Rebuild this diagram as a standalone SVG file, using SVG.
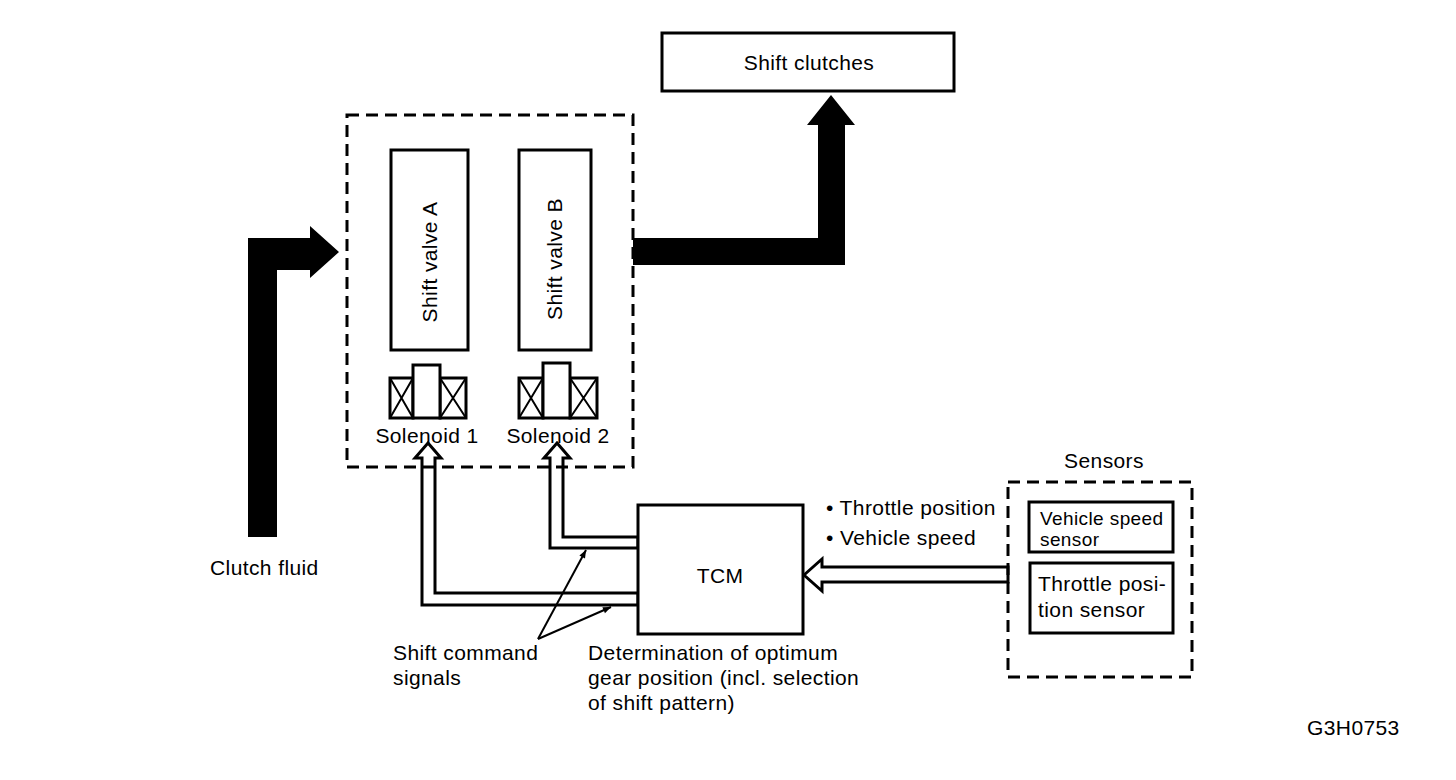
<svg xmlns="http://www.w3.org/2000/svg" width="1456" height="780" viewBox="0 0 1456 780">
<style>
  text { font-family: "Liberation Sans", Arial, sans-serif; fill: #000; letter-spacing: 0.4px; }
  .lbl { font-size: 21px; }
  .sm { font-size: 19px; }
  .box { fill: #fff; stroke: #000; stroke-width: 3; }
  .dash { fill: none; stroke: #000; stroke-width: 3; stroke-dasharray: 12 7; }
  .hollow { fill: #fff; stroke: #000; stroke-width: 3; stroke-linejoin: miter; }
  .solid { fill: #000; stroke: none; }
  .thin { fill: none; stroke: #000; stroke-width: 2; }
</style>
<defs>
  <marker id="ah" viewBox="0 0 10 10" refX="10" refY="5" markerWidth="14" markerHeight="8" markerUnits="userSpaceOnUse" orient="auto">
    <path d="M0,1 L10,5 L0,9 Z" fill="#000"/>
  </marker>
</defs>
<rect width="1456" height="780" fill="#fff"/>

<g id="connectors">
  <!-- clutch fluid thick arrow -->
  <polygon class="solid" points="248,537 277,537 277,270 310,270 310,278 339,252 310,226 310,238 248,238"/>
  <!-- to shift clutches thick arrow -->
  <polygon class="solid" points="633,238 818,238 818,125 807,125 831,95 855,125 845,125 845,265 633,265"/>
  <!-- TCM to solenoid 1 -->
  <polygon class="hollow" points="428,443 441,458 435,458 435,593 638,593 638,605 422,605 422,458 415,458"/>
  <!-- TCM to solenoid 2 -->
  <polygon class="hollow" points="557,443 570,458 563,458 563,537 638,537 638,548 550,548 550,458 544,458"/>
  <!-- sensors to TCM -->
  <polygon class="hollow" points="804,575 822,559 822,567 1008,567 1008,582 822,582 822,591"/>
  <!-- leader lines -->
  <line class="thin" x1="538" y1="639" x2="586" y2="550" marker-end="url(#ah)"/>
  <line class="thin" x1="538" y1="639" x2="611" y2="607" marker-end="url(#ah)"/>
</g>

<g id="shift-clutches">
  <rect class="box" x="662" y="33" width="292" height="58"/>
  <text class="lbl" x="809" y="70" text-anchor="middle">Shift clutches</text>
</g>

<g id="valve-body">
  <rect class="dash" x="347" y="115" width="286" height="352"/>
</g>

<g id="shift-valve-a">
  <rect class="box" x="391" y="150" width="77" height="200"/>
  <text class="lbl" transform="translate(437,262) rotate(-90)" text-anchor="middle">Shift valve A</text>
</g>

<g id="shift-valve-b">
  <rect class="box" x="519" y="150" width="72" height="200"/>
  <text class="lbl" transform="translate(562,259) rotate(-90)" text-anchor="middle">Shift valve B</text>
</g>

<g id="solenoid-1">
  <rect class="box" x="390" y="378" width="23" height="40"/>
  <path class="thin" d="M390,378 L413,418 M413,378 L390,418"/>
  <rect class="box" x="440" y="378" width="26" height="40"/>
  <path class="thin" d="M440,378 L466,418 M466,378 L440,418"/>
  <rect class="box" x="413" y="365" width="27" height="53"/>
  <text class="lbl" x="427" y="443" text-anchor="middle">Solenoid 1</text>
</g>

<g id="solenoid-2">
  <rect class="box" x="519" y="378" width="24" height="40"/>
  <path class="thin" d="M519,378 L543,418 M543,378 L519,418"/>
  <rect class="box" x="570" y="378" width="27" height="40"/>
  <path class="thin" d="M570,378 L597,418 M597,378 L570,418"/>
  <rect class="box" x="543" y="363" width="27" height="55"/>
  <text class="lbl" x="558" y="443" text-anchor="middle">Solenoid 2</text>
</g>

<g id="tcm">
  <rect class="box" x="638" y="505" width="165" height="129"/>
  <text class="lbl" x="720" y="583" text-anchor="middle">TCM</text>
</g>

<g id="sensors">
  <rect class="dash" x="1008" y="482" width="184" height="195"/>
  <text class="lbl" x="1104" y="468" text-anchor="middle">Sensors</text>
</g>

<g id="vehicle-speed-sensor">
  <rect class="box" x="1029" y="502" width="144" height="50"/>
  <text class="sm" x="1040" y="525">Vehicle speed</text>
  <text class="sm" x="1040" y="546">sensor</text>
</g>

<g id="throttle-position-sensor">
  <rect class="box" x="1030" y="563" width="143" height="70"/>
  <text class="lbl" x="1038" y="591">Throttle posi-</text>
  <text class="lbl" x="1038" y="617">tion sensor</text>
</g>

<g id="labels">
  <text class="lbl" x="826" y="515">• Throttle position</text>
  <text class="lbl" x="826" y="545">• Vehicle speed</text>
  <text class="lbl" x="210" y="575">Clutch fluid</text>
  <text class="lbl" x="393" y="660">Shift command</text>
  <text class="lbl" x="393" y="685">signals</text>
  <text class="lbl" x="588" y="660">Determination of optimum</text>
  <text class="lbl" x="588" y="685">gear position (incl. selection</text>
  <text class="lbl" x="588" y="710">of shift pattern)</text>
  <text class="lbl" x="1307" y="735">G3H0753</text>
</g>
</svg>
